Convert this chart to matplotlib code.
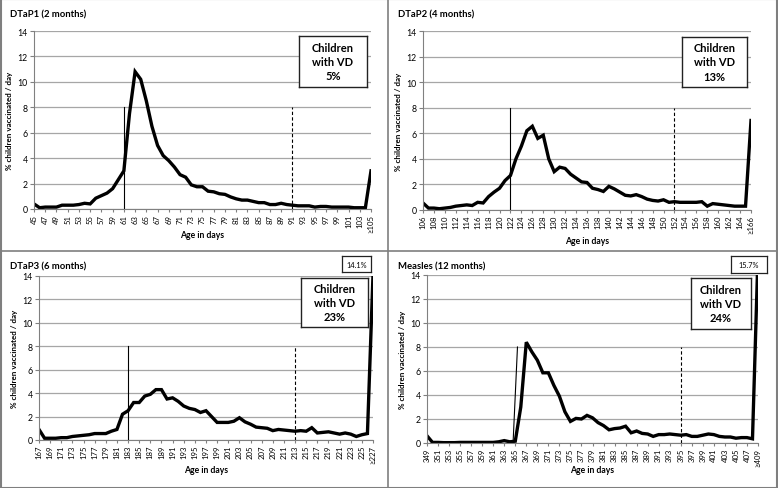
import numpy as np
import matplotlib.pyplot as plt
from matplotlib.lines import Line2D

plt.rcParams['font.family'] = ['Lato', 'DejaVu Sans']

# day ranges (60 single days + one "≥" bucket each)
start1, start2, start3, start4 = 45, 106, 167, 349

dtap1 = [0.4, 0.1, 0.15, 0.15, 0.15, 0.3, 0.3, 0.3, 0.35, 0.45,
         0.4, 0.85, 1.05, 1.25, 1.6, 2.3, 3.0, 7.5, 10.8, 10.2,
         8.5, 6.5, 5.0, 4.2, 3.8, 3.3, 2.7, 2.5, 1.9, 1.75,
         1.75, 1.4, 1.35, 1.2, 1.15, 0.95, 0.8, 0.7, 0.7, 0.6,
         0.5, 0.5, 0.35, 0.35, 0.45, 0.35, 0.3, 0.25, 0.25, 0.25,
         0.15, 0.2, 0.2, 0.15, 0.15, 0.15, 0.15, 0.1, 0.1, 0.1,
         3.0]
dtap2 = [0.55, 0.15, 0.15, 0.1, 0.15, 0.2, 0.3, 0.35, 0.4, 0.35,
         0.6, 0.55, 1.05, 1.4, 1.7, 2.3, 2.7, 4.0, 5.0, 6.2,
         6.55, 5.6, 5.85, 4.0, 3.0, 3.35, 3.25, 2.8, 2.5, 2.2,
         2.15, 1.7, 1.6, 1.45, 1.85, 1.65, 1.4, 1.15, 1.1, 1.2,
         1.05, 0.85, 0.75, 0.7, 0.8, 0.6, 0.65, 0.6, 0.6, 0.6,
         0.6, 0.65, 0.3, 0.5, 0.45, 0.4, 0.35, 0.3, 0.3, 0.3,
         7.0]
dtap3 = [0.9, 0.15, 0.15, 0.15, 0.2, 0.2, 0.3, 0.35, 0.4, 0.45,
         0.55, 0.55, 0.55, 0.75, 0.9, 2.2, 2.5, 3.2, 3.2, 3.75,
         3.9, 4.3, 4.3, 3.5, 3.6, 3.3, 2.9, 2.7, 2.6, 2.35,
         2.5, 2.0, 1.5, 1.5, 1.5, 1.6, 1.9, 1.55, 1.35, 1.1,
         1.05, 1.0, 0.8, 0.9, 0.85, 0.8, 0.75, 0.8, 0.75, 1.05,
         0.6, 0.65, 0.7, 0.6, 0.5, 0.6, 0.5, 0.3, 0.45, 0.55,
         14.1]
measles = [0.6, 0.05, 0.05, 0.03, 0.03, 0.03, 0.05, 0.05, 0.05, 0.05,
           0.05, 0.05, 0.05, 0.1, 0.2, 0.1, 0.15, 3.0, 8.4, 7.6,
           6.9, 5.85, 5.85, 4.8, 3.9, 2.6, 1.8, 2.05, 2.0, 2.3,
           2.1, 1.7, 1.45, 1.1, 1.2, 1.25, 1.4, 0.85, 1.0, 0.8,
           0.75, 0.55, 0.7, 0.7, 0.75, 0.7, 0.65, 0.7, 0.55, 0.55,
           0.65, 0.75, 0.7, 0.55, 0.5, 0.5, 0.4, 0.45, 0.45, 0.35,
           15.7]

titles = ['DTaP1 (2 months)', 'DTaP2 (4 months)', 'DTaP3 (6 months)', 'Measles (12 months)']
vd_pct = ['5%', '13%', '23%', '24%']
overflow = [None, None, '14.1%', '15.7%']
starts = [start1, start2, start3, start4]
series = [dtap1, dtap2, dtap3, measles]
target_day = [61, 122, 183, 365]
late_day = [91, 152, 213, 395]

W, H = 778, 489
fig = plt.figure(figsize=(W / 100, H / 100), dpi=100)

# panel layout in pixels: (axes left, right, top, bottom), box (l, r, t, b), panel origin
axes_px = [(34, 371, 32, 210), (423, 751, 32, 211), (39, 373, 277, 441), (427, 758, 276, 444)]
box_px = [(299, 367, 37, 88), (682, 747, 38, 88), (301, 368, 279, 328), (691, 751, 279, 330)]
small_px = [None, None, (342, 371, 257, 273), (731, 767, 257, 274)]
origin = [(0, 0), (388, 0), (0, 252), (388, 252)]
xlab_y = [236, 242, 471, 471]


def px(l, r, t, b):
    return [l / W, 1 - b / H, (r - l) / W, (b - t) / H]


for i in range(4):
    s = starts[i]
    days = np.arange(s, s + 61)
    ax = fig.add_axes(px(*axes_px[i]))
    ax.plot(days, series[i], color='black', lw=2.4, solid_joinstyle='miter')
    ax.set_xlim(s, s + 60)
    ax.set_ylim(0, 14)
    ax.set_yticks(range(0, 15, 2))
    ax.grid(axis='y', color='#a6a6a6', lw=0.9)
    ax.set_axisbelow(True)
    for sp in ['top', 'right']:
        ax.spines[sp].set_visible(False)
    ax.spines['left'].set_color('#808080')
    ax.spines['bottom'].set_color('#808080')
    labels = [str(d) for d in days[:-1:2]] + ['\u2265' + str(s + 60)]
    ax.set_xticks(list(days[:-1:2]) + [s + 60])
    ax.set_xticklabels(labels, rotation=90, fontsize=5.6)
    ax.tick_params(axis='x', length=2, pad=1.5, color='#808080')
    ax.tick_params(axis='y', labelsize=6.3, length=3, pad=1.5, color='#808080')
    ax.set_ylabel('% children vaccinated / day', fontsize=5.8, fontweight='bold', labelpad=3)

    # reference lines for the recommended day and the delay threshold
    if i == 3:
        ax.plot([target_day[i] - 0.4, target_day[i] + 0.4], [0, 8], color='black', lw=0.8)
    else:
        ax.plot([target_day[i], target_day[i]], [0, 8], color='black', lw=0.8)
    ax.plot([late_day[i], late_day[i]], [0, 8], color='black', lw=0.8, ls=(0, (3, 2)))

    ox, oy = origin[i]
    fig.text((ox + 10) / W, 1 - (oy + 15) / H, titles[i], fontsize=6.8,
             fontweight='bold', va='center', ha='left')
    al, ar, at, ab = axes_px[i]
    fig.text(((al + ar) / 2) / W, 1 - xlab_y[i] / H, 'Age in days', fontsize=6.2,
             fontweight='bold', ha='center', va='center')

    bl, br, bt, bb = box_px[i]
    bax = fig.add_axes(px(bl, br, bt, bb))
    bax.set_xticks([])
    bax.set_yticks([])
    for sp in bax.spines.values():
        sp.set_linewidth(1.0)
        sp.set_color('#222222')
    bax.text(0.5, 0.5, 'Children\nwith VD\n' + vd_pct[i], ha='center', va='center',
             fontsize=8, fontweight='bold', linespacing=1.35, transform=bax.transAxes)

    if small_px[i] is not None:
        sl, sr, st, sb = small_px[i]
        sax = fig.add_axes(px(sl, sr, st, sb))
        sax.set_xticks([])
        sax.set_yticks([])
        for sp in sax.spines.values():
            sp.set_linewidth(0.9)
            sp.set_color('#222222')
        sax.text(0.5, 0.5, overflow[i], ha='center', va='center', fontsize=5.3,
                 transform=sax.transAxes)

# panel borders
border = '#7f7f7f'
fig.add_artist(Line2D([388 / W, 388 / W], [0, 1], color=border, lw=1.2))
fig.add_artist(Line2D([0, 1], [1 - 252 / H, 1 - 252 / H], color=border, lw=1.2))
for xs, ys in [([0.001, 0.001], [0, 1]), ([0.999, 0.999], [0, 1]),
               ([0, 1], [0.001, 0.001]), ([0, 1], [0.999, 0.999])]:
    fig.add_artist(Line2D(xs, ys, color=border, lw=1.5))

fig.savefig('out.png', dpi=100)
